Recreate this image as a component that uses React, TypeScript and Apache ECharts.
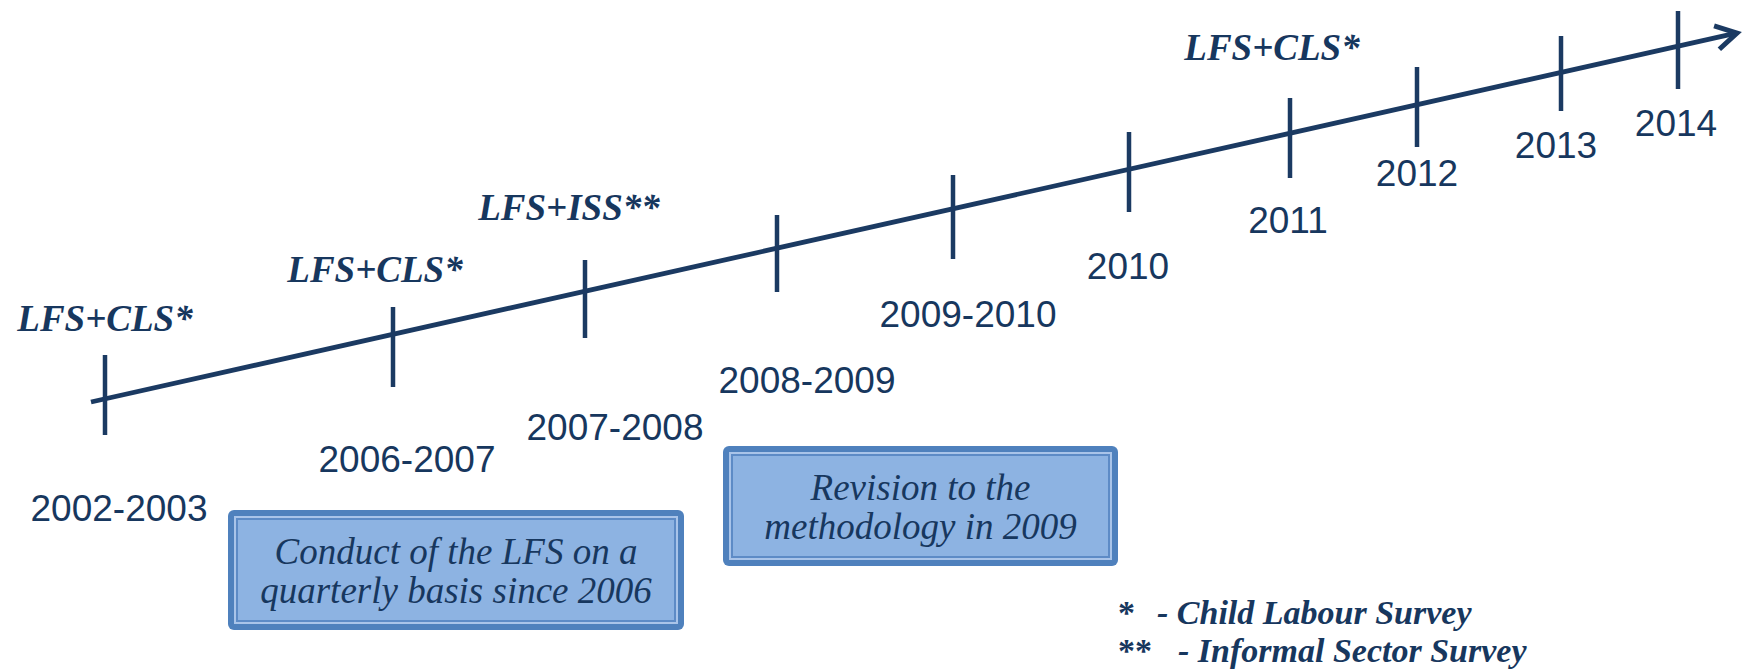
import React, { useEffect, useRef } from "react";
import * as echarts from "echarts";

// ---- data ----
const periods = ["2002-2003", "2006-2007", "2007-2008", "2008-2009", "2009-2010", "2010", "2011", "2012", "2013", "2014"];
const tickPos = [105, 393, 585, 777, 953, 1129, 1290, 1417, 1561, 1678];
const tickTop = [355, 307, 260, 215, 175, 132, 98, 67, 36, 11];
const tickBottom = [435, 387, 338, 292, 259, 212, 178, 147, 111, 89];
const periodLabelX = [119, 407, 615, 807, 968, 1128, 1288, 1417, 1556, 1676];
const periodLabelY = [508, 459, 427, 380, 314, 266, 220, 173, 145, 123];

const surveys = ["LFS+CLS*", "LFS+CLS*", "LFS+ISS**", "LFS+CLS*"];
const surveyX = [105, 375, 569, 1272];
const surveyY = [318, 269, 207, 47];

const timelineStart = [91, 402];
const timelineEnd = [1737, 33];

const notes = ["Conduct of the LFS on a\nquarterly basis since 2006", "Revision to the\nmethodology in 2009"];
const noteBoxes = [
  [228, 510, 684, 630],
  [723, 446, 1118, 566],
];

const legendMarks = ["*", "**"];
const legendTexts = ["- Child Labour Survey", "- Informal Sector Survey"];
const legendMarkX = [1118, 1118];
const legendTextX = [1157, 1178];
const legendY = [612, 650];

const NAVY = "#1b3a62";
const TEXT = "#17375e";
const SERIF = '"Liberation Serif", "Times New Roman", serif';
const SANS = '"Liberation Sans", Arial, sans-serif';

export default function App() {
  const ref = useRef<HTMLDivElement>(null);

  useEffect(() => {
    document.body.style.margin = "0";
    if (!ref.current) return;
    const chart = echarts.init(ref.current, undefined, { renderer: "svg" });

    const option: any = {
      animation: false,
      backgroundColor: "#ffffff",
      grid: { left: 0, right: 0, top: 0, bottom: 0 },
      xAxis: { type: "value", min: 0, max: 1748, show: false },
      yAxis: { type: "value", min: 0, max: 670, inverse: true, show: false },
      series: [
        // timeline with arrow
        {
          type: "custom",
          name: "timeline",
          silent: true,
          data: [[timelineStart[0], timelineStart[1], timelineEnd[0], timelineEnd[1]]],
          renderItem: (params: any, api: any) => {
            const a = api.coord([api.value(0), api.value(1)]);
            const b = api.coord([api.value(2), api.value(3)]);
            const ang = Math.atan2(a[1] - b[1], a[0] - b[0]);
            const L = 24;
            const d = (30 * Math.PI) / 180;
            const p1 = [b[0] + L * Math.cos(ang + d), b[1] + L * Math.sin(ang + d)];
            const p2 = [b[0] + L * Math.cos(ang - d), b[1] + L * Math.sin(ang - d)];
            return {
              type: "group",
              children: [
                {
                  type: "line",
                  shape: { x1: a[0], y1: a[1], x2: b[0] - 2 * Math.cos(ang + Math.PI), y2: b[1] - 2 * Math.sin(ang + Math.PI) },
                  style: { stroke: NAVY, lineWidth: 4.8, lineCap: "butt" },
                },
                {
                  type: "polyline",
                  shape: { points: [p1, b, p2] },
                  style: { stroke: NAVY, lineWidth: 5, fill: "none", lineJoin: "miter", lineCap: "butt" },
                },
              ],
            };
          },
        },
        // ticks
        {
          type: "custom",
          name: "ticks",
          silent: true,
          data: tickPos.map((x, i) => [x, tickTop[i], tickBottom[i]]),
          renderItem: (params: any, api: any) => {
            const t = api.coord([api.value(0), api.value(1)]);
            const b = api.coord([api.value(0), api.value(2)]);
            return {
              type: "line",
              shape: { x1: t[0], y1: t[1], x2: b[0], y2: b[1] },
              style: { stroke: NAVY, lineWidth: 4.5, lineCap: "butt" },
            };
          },
        },
        // period labels
        {
          type: "custom",
          name: "periods",
          silent: true,
          data: periodLabelX.map((x, i) => [x, periodLabelY[i]]),
          renderItem: (params: any, api: any) => {
            const p = api.coord([api.value(0), api.value(1)]);
            return {
              type: "text",
              x: p[0],
              y: p[1],
              style: {
                text: periods[params.dataIndex],
                fontFamily: SANS,
                fontSize: 37,
                fill: TEXT,
                align: "center",
                verticalAlign: "middle",
              },
            };
          },
        },
        // survey labels
        {
          type: "custom",
          name: "surveys",
          silent: true,
          data: surveyX.map((x, i) => [x, surveyY[i]]),
          renderItem: (params: any, api: any) => {
            const p = api.coord([api.value(0), api.value(1)]);
            return {
              type: "text",
              x: p[0],
              y: p[1],
              style: {
                text: surveys[params.dataIndex],
                fontFamily: SERIF,
                fontSize: 37,
                fontStyle: "italic",
                fontWeight: "bold",
                fill: TEXT,
                align: "center",
                verticalAlign: "middle",
              },
            };
          },
        },
        // note boxes
        {
          type: "custom",
          name: "notes",
          silent: true,
          data: noteBoxes,
          renderItem: (params: any, api: any) => {
            const a = api.coord([api.value(0), api.value(1)]);
            const b = api.coord([api.value(2), api.value(3)]);
            const x = a[0], y = a[1], w = b[0] - a[0], h = b[1] - a[1];
            const inset = (k: number) => ({ x: x + k, y: y + k, width: w - 2 * k, height: h - 2 * k });
            return {
              type: "group",
              children: [
                { type: "rect", shape: { ...inset(0), r: 6 }, style: { fill: "#4f81bd" } },
                { type: "rect", shape: inset(6), style: { fill: "#a9c4e9" } },
                { type: "rect", shape: inset(8), style: { fill: "#5d8bc6" } },
                { type: "rect", shape: inset(10), style: { fill: "#8db3e2" } },
                {
                  type: "text",
                  x: x + w / 2,
                  y: y + h / 2 + 1,
                  style: {
                    text: notes[params.dataIndex],
                    fontFamily: SERIF,
                    fontSize: 37,
                    fontStyle: "italic",
                    lineHeight: 39,
                    fill: TEXT,
                    align: "center",
                    verticalAlign: "middle",
                  },
                },
              ],
            };
          },
        },
        // legend notes
        {
          type: "custom",
          name: "legend",
          silent: true,
          data: legendY.map((y, i) => [legendMarkX[i], legendTextX[i], y]),
          renderItem: (params: any, api: any) => {
            const m = api.coord([api.value(0), api.value(2)]);
            const t = api.coord([api.value(1), api.value(2)]);
            const base = {
              fontFamily: SERIF,
              fontSize: 34,
              fontWeight: "bold",
              fill: TEXT,
              align: "left",
              verticalAlign: "middle",
            };
            return {
              type: "group",
              children: [
                { type: "text", x: m[0], y: m[1], style: { ...base, text: legendMarks[params.dataIndex] } },
                { type: "text", x: t[0], y: t[1], style: { ...base, fontStyle: "italic", text: legendTexts[params.dataIndex] } },
              ],
            };
          },
        },
      ],
    };

    chart.setOption(option);
    return () => chart.dispose();
  }, []);

  return <div ref={ref} style={{ width: "1748px", height: "670px" }} />;
}
